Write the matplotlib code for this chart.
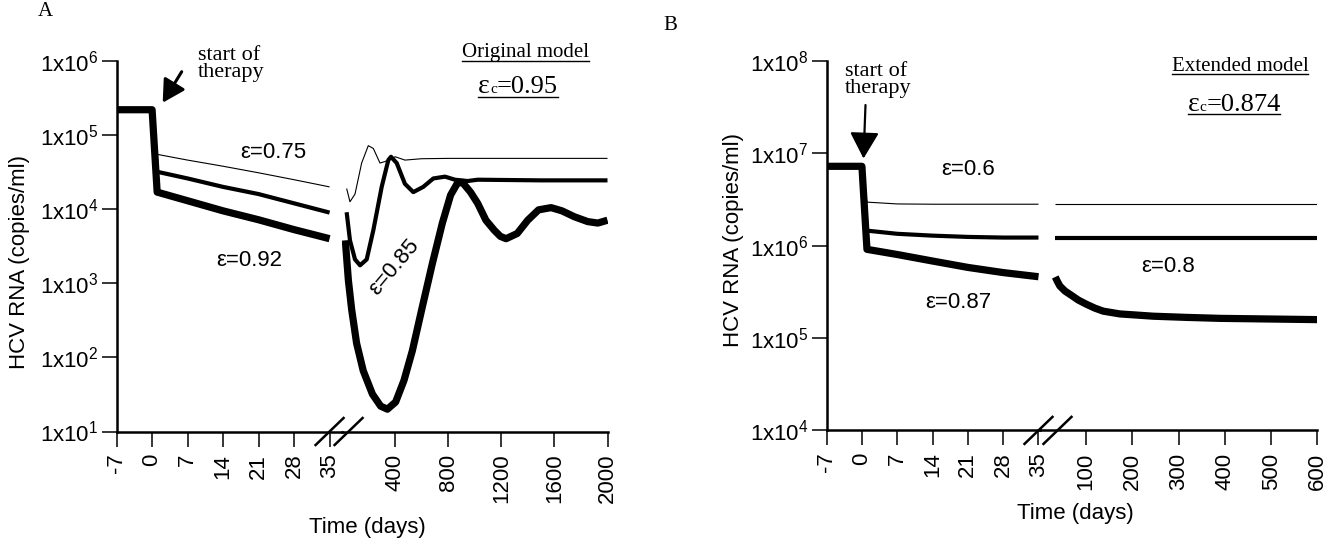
import matplotlib
matplotlib.use("Agg")
import matplotlib.pyplot as plt
from matplotlib.lines import Line2D
from matplotlib.transforms import IdentityTransform

plt.rcParams['font.family'] = ['Liberation Sans', 'DejaVu Sans']
plt.rcParams['mathtext.fontset'] = 'custom'
plt.rcParams['mathtext.rm'] = 'Liberation Sans'
plt.rcParams['mathtext.it'] = 'Liberation Sans:italic'
plt.rcParams['mathtext.bf'] = 'Liberation Sans:bold'

SERIF = ['Liberation Serif', 'DejaVu Serif']
W, H = 1342, 539

# ---------------- panel A : original model (eps_c = 0.95) ----------------
a_early_days = [-7, 0, 1, 7, 14, 21, 28, 35]
a_early_075 = [2.2e5, 2.2e5, 5.5e4, 4.6e4, 3.8e4, 3.1e4, 2.5e4, 2.0e4]
a_early_085 = [2.2e5, 2.2e5, 3.2e4, 2.6e4, 2.0e4, 1.6e4, 1.2e4, 9.0e3]
a_early_092 = [2.2e5, 2.2e5, 1.7e4, 1.3e4, 9.5e3, 7.2e3, 5.3e3, 4.0e3]

a_late_days_075 = [35, 60, 98, 148, 198, 236, 286, 324, 401, 474, 600, 800, 2000]
a_late_075 = [1.9e4, 1.26e4, 1.6e4, 4.2e4, 7.2e4, 6.6e4, 4.2e4, 4.4e4, 5.1e4, 4.6e4, 4.8e4,
              4.85e4, 4.85e4]

a_late_days_085 = [35, 60, 98, 136, 186, 236, 299, 349, 369, 412, 474, 537, 612, 688, 776,
                   851, 946, 1022, 1500, 2000]
a_late_085 = [9.1e3, 3.8e3, 2.1e3, 1.75e3, 2.1e3, 5.2e3, 2.0e4, 4.6e4, 5.1e4, 4.2e4, 2.2e4,
              1.7e4, 2.0e4, 2.6e4, 2.75e4, 2.5e4, 2.4e4, 2.5e4, 2.45e4, 2.45e4]

a_late_days_092 = [25, 48, 73, 110, 160, 229, 291, 342, 404, 467, 530, 605, 681, 756, 818, 869,
                   907, 968, 1022, 1084, 1147, 1193, 1236, 1320, 1399, 1481, 1575, 1657, 1751,
                   1851, 1927, 2000]
a_late_092 = [3.8e3, 1.1e3, 440, 155, 66, 32, 22, 20, 25, 49, 123, 480, 1.86e3, 6.5e3, 1.55e4,
              2.24e4, 2.3e4, 1.7e4, 1.2e4, 7.1e3, 5.2e3, 4.3e3, 4.0e3, 4.7e3, 7.1e3, 9.8e3,
              1.05e4, 9.5e3, 7.9e3, 6.8e3, 6.5e3, 7.1e3]

a_left_ticks = [-7, 0, 7, 14, 21, 28, 35]
a_right_ticks = [400, 800, 1200, 1600, 2000]
a_yticks = [1, 2, 3, 4, 5, 6]

# ---------------- panel B : extended model (eps_c = 0.874) ----------------
b_early_days = [-7, 0, 1, 7, 14, 21, 28, 35]
b_early_06 = [7.2e6, 7.2e6, 2.95e6, 2.82e6, 2.8e6, 2.8e6, 2.8e6, 2.8e6]
b_early_08 = [7.2e6, 7.2e6, 1.45e6, 1.34e6, 1.28e6, 1.24e6, 1.22e6, 1.22e6]
b_early_087 = [7.2e6, 7.2e6, 9.1e5, 8.0e5, 6.8e5, 5.8e5, 5.1e5, 4.6e5]

b_late_days = [33, 600]
b_late_06 = [2.8e6, 2.8e6]
b_late_08 = [1.22e6, 1.22e6]
b_late_days_087 = [33, 38, 43, 54, 65, 83, 101, 119, 137, 173, 209, 245, 317, 390, 600]
b_late_087 = [4.57e5, 4.06e5, 3.65e5, 3.22e5, 2.96e5, 2.57e5, 2.31e5, 2.10e5, 1.95e5, 1.82e5,
              1.77e5, 1.72e5, 1.67e5, 1.63e5, 1.58e5]

b_left_ticks = [-7, 0, 7, 14, 21, 28, 35]
b_right_ticks = [100, 200, 300, 400, 500, 600]
b_yticks = [4, 5, 6, 7, 8]

LW_THIN, LW_MED, LW_THICK = 0.8, 3.0, 5.2


def frac(x0, y_top, x1, y_bot):
    # pixel box -> figure fraction rect
    return [x0 / W, 1 - y_bot / H, (x1 - x0) / W, (y_bot - y_top) / H]


def style_axes(ax, ylim, yticks, xlim, xticks, show_y):
    ax.set_yscale('log')
    ax.set_ylim(*ylim)
    ax.set_xlim(*xlim)
    ax.yaxis.set_minor_locator(matplotlib.ticker.NullLocator())
    ax.set_xticks(xticks)
    ax.set_xticklabels([str(t) for t in xticks], rotation=90)
    for s in ['top', 'right']:
        ax.spines[s].set_visible(False)
    ax.spines['bottom'].set_linewidth(1.8)
    ax.spines['left'].set_linewidth(1.8)
    ax.tick_params(axis='x', length=11, width=1.1, direction='out', labelsize=16, pad=5)
    ax.tick_params(axis='y', length=11, width=1.1, direction='out', labelsize=16, pad=2)
    if show_y:
        ax.set_yticks([10.0 ** k for k in yticks])
        ax.set_yticklabels([r'1x10$^{%d}$' % k for k in yticks])
    else:
        ax.spines['left'].set_visible(False)
        ax.tick_params(axis='y', left=False, labelleft=False)
    ax.patch.set_visible(False)


def draw(ax, x, y, lw):
    ax.plot(x, y, color='black', lw=lw, solid_capstyle='butt', solid_joinstyle='round')


def add_break(fig, ax, x_tick):
    x0, y0 = ax.transData.transform((x_tick, ax.get_ylim()[0]))
    for dx in (0, 19):
        fig.add_artist(Line2D([x0 + dx - 14, x0 + dx + 14], [y0 - 13.5, y0 + 13.5],
                              transform=IdentityTransform(), color='black', lw=1.8))


def ftext(fig, x, y, s, **kw):
    return fig.text(x / W, 1 - y / H, s, **kw)


def underline(fig, x0, x1, y):
    fig.add_artist(Line2D([x0, x1], [H - y, H - y], transform=IdentityTransform(),
                          color='black', lw=1.0))


def eps_c_text(fig, x_center, y_base, value, y_line):
    parts = [('ε', 20), ('c', 11), ('=' + value, 19)]
    texts = [fig.text(0, 0, s, fontsize=fs, family=SERIF, va='baseline', ha='left',
                      transform=IdentityTransform()) for s, fs in parts]
    r = fig.canvas.get_renderer()
    widths = [t.get_window_extent(r).width for t in texts]
    x = x_center - sum(widths) / 2
    start = x
    for t, w in zip(texts, widths):
        t.set_position((x, H - y_base))
        x += w
    underline(fig, start, x, y_line)


fig = plt.figure(figsize=(W / 100, H / 100), dpi=100)

# panel A axes
axA1 = fig.add_axes(frac(116.6, 61, 342, 431.5))
axA2 = fig.add_axes(frac(342, 61, 607.5, 431.5))
style_axes(axA1, (10, 1e6), a_yticks, (-7, 37.45), a_left_ticks, True)
style_axes(axA2, (10, 1e6), a_yticks, (0, 2000), a_right_ticks, False)

draw(axA1, a_early_days, a_early_075, LW_THIN)
draw(axA1, a_early_days, a_early_085, LW_MED)
draw(axA1, a_early_days, a_early_092, LW_THICK)
draw(axA2, a_late_days_075, a_late_075, LW_THIN)
draw(axA2, a_late_days_085, a_late_085, LW_MED)
draw(axA2, a_late_days_092, a_late_092, LW_THICK)
add_break(fig, axA1, 35)

# panel B axes
axB1 = fig.add_axes(frac(826.6, 60.7, 1040, 430.4))
axB2 = fig.add_axes(frac(1040, 60.7, 1317.3, 430.4))
style_axes(axB1, (1e4, 1e8), b_yticks, (-7, 35.3), b_left_ticks, True)
style_axes(axB2, (1e4, 1e8), b_yticks, (0, 600), b_right_ticks, False)

draw(axB1, b_early_days, b_early_06, LW_THIN)
draw(axB1, b_early_days, b_early_08, LW_MED)
draw(axB1, b_early_days, b_early_087, LW_THICK)
draw(axB2, b_late_days, b_late_06, LW_THIN)
draw(axB2, b_late_days, b_late_08, LW_MED)
draw(axB2, b_late_days_087, b_late_087, LW_THICK)
add_break(fig, axB1, 35)

# axis labels
ftext(fig, 20, 262, 'HCV RNA (copies/ml)', rotation=90, fontsize=16, ha='center', va='center')
ftext(fig, 733, 240, 'HCV RNA (copies/ml)', rotation=90, fontsize=16, ha='center', va='center')
ftext(fig, 367, 528, 'Time (days)', fontsize=16, ha='center', va='center')
ftext(fig, 1075, 514, 'Time (days)', fontsize=16, ha='center', va='center')

# panel letters
ftext(fig, 45, 12, 'A', fontsize=15, family=SERIF, ha='center', va='center')
ftext(fig, 670, 25, 'B', fontsize=15, family=SERIF, ha='center', va='center')

# start of therapy notes + arrows
ftext(fig, 198, 77, 'start of\ntherapy', fontsize=16, family=SERIF, ha='left', va='baseline',
      linespacing=0.85)
ftext(fig, 845, 93, 'start of\ntherapy', fontsize=16, family=SERIF, ha='left', va='baseline',
      linespacing=0.85)
fig.add_artist(matplotlib.patches.FancyArrowPatch(
    (181.7 / W, 1 - 71.7 / H), (162.7 / W, 1 - 102.7 / H), transform=fig.transFigure,
    arrowstyle='-|>,head_length=0.45,head_width=0.25', mutation_scale=30,
    color='black', lw=2.2, shrinkA=0, shrinkB=0))
fig.add_artist(matplotlib.patches.FancyArrowPatch(
    (865.5 / W, 1 - 105 / H), (863.5 / W, 1 - 158.5 / H), transform=fig.transFigure,
    arrowstyle='-|>,head_length=0.45,head_width=0.25', mutation_scale=36,
    color='black', lw=1.6, shrinkA=0, shrinkB=0))

# epsilon labels
ftext(fig, 273, 152, 'ε=0.75', fontsize=16, ha='center', va='center')
ftext(fig, 249, 260, 'ε=0.92', fontsize=16, ha='center', va='center')
ftext(fig, 394, 267, 'ε=0.85', fontsize=16, ha='center', va='center', rotation=50)
ftext(fig, 968, 170, 'ε=0.6', fontsize=16, ha='center', va='center')
ftext(fig, 958, 303, 'ε=0.87', fontsize=16, ha='center', va='center')
ftext(fig, 1168, 267, 'ε=0.8', fontsize=16, ha='center', va='center')

# model titles (underlined)
tA = ftext(fig, 525, 57, 'Original model', fontsize=15, family=SERIF, ha='center', va='baseline')
tB = ftext(fig, 1240, 71, 'Extended model', fontsize=15, family=SERIF, ha='center', va='baseline')
fig.canvas.draw()
rend = fig.canvas.get_renderer()
for t, yl in ((tA, 61), (tB, 73.5)):
    bb = t.get_window_extent(rend)
    underline(fig, bb.x0, bb.x1, yl)
eps_c_text(fig, 518, 93, '0.95', 96.5)
eps_c_text(fig, 1234, 111, '0.874', 113.5)

fig.savefig('out.png', dpi=100)
